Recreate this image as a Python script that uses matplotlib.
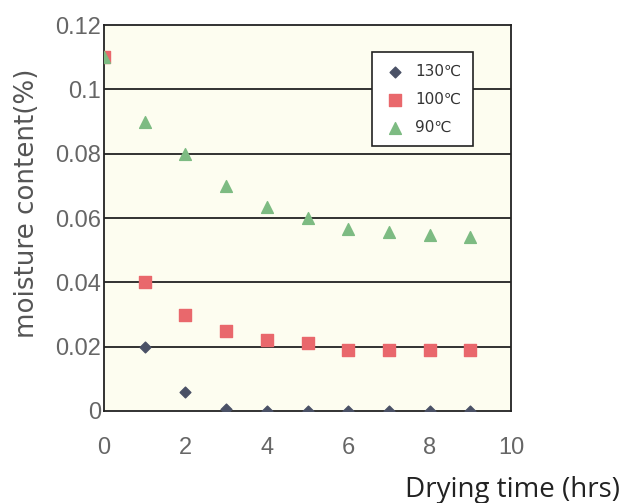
import matplotlib
matplotlib.use('Agg')
import matplotlib.pyplot as plt

# drying time (hrs)
hours = [0, 1, 2, 3, 4, 5, 6, 7, 8, 9]

# moisture content (%) at each drying temperature
moist_130 = [0.11, 0.020, 0.0058, 0.0005, 0.0, 0.0, 0.0, 0.0, 0.0, 0.0]
moist_100 = [0.11, 0.040, 0.0297, 0.025, 0.022, 0.021, 0.019, 0.019, 0.019, 0.019]
moist_90 = [0.11, 0.090, 0.080, 0.070, 0.0634, 0.060, 0.0566, 0.0558, 0.0548, 0.054]

series_labels = ['130\u2103', '100\u2103', '90\u2103']
y_ticks = [0, 0.02, 0.04, 0.06, 0.08, 0.1, 0.12]
y_tick_labels = ['0', '0.02', '0.04', '0.06', '0.08', '0.1', '0.12']
x_ticks = [0, 2, 4, 6, 8, 10]

plt.rcParams['font.family'] = ['Liberation Sans', 'DejaVu Sans']

fig = plt.figure(figsize=(6.36, 5.03), dpi=100)
ax = fig.add_axes([0.1635, 0.183, 0.640, 0.767])
ax.set_facecolor('#fdfdf0')

# horizontal grid lines only
for yv in y_ticks[1:-1]:
    ax.axhline(yv, color='#222222', linewidth=1.3, zorder=1)

ax.scatter(hours, moist_130, marker='D', s=30, color='#4a5166', label=series_labels[0], zorder=3)
ax.scatter(hours, moist_100, marker='s', s=64, color='#e9686c', label=series_labels[1], zorder=4)
ax.scatter(hours, moist_90, marker='^', s=72, color='#7dbb82', label=series_labels[2], zorder=5)

ax.set_xlim(0, 10)
ax.set_ylim(0, 0.12)
ax.set_yticks(y_ticks)
ax.set_yticklabels(y_tick_labels)
ax.set_xticks(x_ticks)
ax.tick_params(axis='both', labelsize=17, colors='#666666', length=0)
ax.tick_params(axis='y', pad=2)
ax.tick_params(axis='x', pad=19)
for sp in ax.spines.values():
    sp.set_color('#222222')
    sp.set_linewidth(1.3)

fig.text(27 / 636, 1 - 203 / 503, 'moisture content(%)', rotation=90,
         ha='center', va='center', fontsize=18.8, color='#555555',
         family=['DejaVu Sans'])

fig.text(620 / 636, 1 - 497 / 503, 'Drying time (hrs)', ha='right', va='baseline',
         fontsize=20, color='#222222', family=['Open Sans', 'DejaVu Sans'])

leg = ax.legend(loc='upper left', bbox_to_anchor=(0.658, 0.930), borderaxespad=0,
                fontsize=11, frameon=True, fancybox=False, edgecolor='#222222',
                borderpad=0.75, labelspacing=0.85, handletextpad=0.5,
                handlelength=1.6, scatterpoints=1, framealpha=1)
leg.get_frame().set_linewidth(1.2)
for t in leg.get_texts():
    t.set_color('#333333')
    t.set_family(['DejaVu Sans'])

fig.savefig('out.png', dpi=100)
